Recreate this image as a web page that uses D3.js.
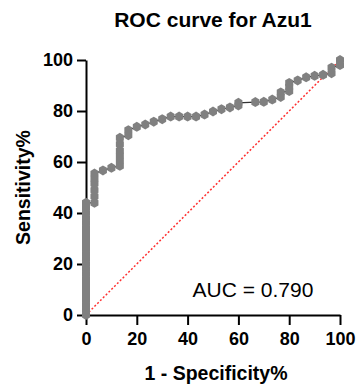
<!DOCTYPE html>
<html><head><meta charset="utf-8">
<script src="https://cdn.jsdelivr.net/npm/d3@7"></script>
<style>
html,body{margin:0;padding:0;background:#fff;}
svg{display:block;font-family:"Liberation Sans",Arial,sans-serif;}
</style></head>
<body>
<script>
// ROC points: 100 - Specificity% (x) and Sensitivity% (y)
const fpr = [
  0,0,0,0,0,0,0,0,0,0,0,0,0,0,0,0,0,0,0,0,0,0,0,
  3.33,3.33,3.33,3.33,3.33,3.33,
  6.67,10,
  13.33,13.33,13.33,13.33,13.33,13.33,
  16.67,16.67,
  20,23.33,26.67,30,33.33,36.67,40,43.33,46.67,50,53.33,56.67,
  60,60,
  66.67,70,73.33,
  76.67,76.67,
  80,80,80,
  83.33,86.67,90,93.33,
  96.67,96.67,
  100,100
];
const tpr = [
  0,2,4,6,8,10,12,14,16,18,20,22,24,26,28,30,32,34,36,38,40,42,44,
  44,46.5,49,51.5,53.5,55.5,
  56.7,57.7,
  58.5,60.5,62.5,64.5,67,69.5,
  70.5,72.5,
  73.8,74.7,75.8,76.8,77.8,77.8,77.8,77.8,78.6,79.8,80.7,81.4,
  82.2,83.2,
  83.5,83.6,84.5,
  85.5,87.3,
  87.8,89.5,91,
  92,93.2,93.8,94.2,
  94.8,97,
  98,100
];
const xTicks = [0,20,40,60,80,100];
const yTicks = [0,20,40,60,80,100];
const title = "ROC curve for Azu1";
const xLabel = "1 - Specificity%";
const yLabel = "Sensitivity%";
const aucText = "AUC = 0.790";

const W = 357, H = 385;
const svg = d3.select("body").append("svg").attr("width", W).attr("height", H);

const x = d3.scaleLinear().domain([0,100]).range([86,340]);
const y = d3.scaleLinear().domain([0,100]).range([315,60]);

// axes (drawn first so the curve covers them)
const xAxis = d3.axisBottom(x).tickValues(xTicks).tickSize(10).tickPadding(7).tickSizeOuter(0);
const yAxis = d3.axisLeft(y).tickValues(yTicks).tickSize(9).tickPadding(4).tickSizeOuter(0);

const gx = svg.append("g").attr("transform","translate(0,315)").call(xAxis);
const gy = svg.append("g").attr("transform","translate(86,0)").call(yAxis);
[gx,gy].forEach(g=>{
  g.select(".domain").attr("stroke","#000").attr("stroke-width",2);
  g.selectAll(".tick line").attr("stroke","#000").attr("stroke-width",2);
  g.selectAll(".tick text").attr("fill","#000")
    .style("font-size","18px").style("font-weight","bold")
    .style("font-family","'Liberation Sans',Arial,sans-serif");
});

// reference diagonal
svg.append("line")
  .attr("x1", x(0)).attr("y1", y(0)).attr("x2", x(100)).attr("y2", y(100))
  .attr("stroke", "#ff3030").attr("stroke-width", 1.5)
  .attr("stroke-dasharray", "2,2");

const pts = fpr.map((v,i)=>[v,tpr[i]]);

// connecting line
svg.append("path")
  .datum(pts)
  .attr("fill","none").attr("stroke","#333").attr("stroke-width",1.2)
  .attr("d", d3.line().x(d=>x(d[0])).y(d=>y(d[1])));

// markers
const marker = "M0,-5L4,-2.6L4,2.6L0,5L-4,2.6L-4,-2.6Z";
svg.append("g").selectAll("path").data(pts).join("path")
  .attr("d", marker)
  .attr("transform", d=>`translate(${x(d[0])},${y(d[1])})`)
  .attr("fill","#808080");

// title
svg.append("text").attr("x",213).attr("y",27).attr("text-anchor","middle")
  .style("font-size","21px").style("font-weight","bold").text(title);
// x label
svg.append("text").attr("x",216).attr("y",380).attr("text-anchor","middle")
  .style("font-size","19.5px").style("font-weight","bold").text(xLabel);
// y label
svg.append("text").attr("transform","translate(30,187.5) rotate(-90)").attr("text-anchor","middle")
  .style("font-size","19.5px").style("font-weight","bold").text(yLabel);
// AUC
svg.append("text").attr("x",253).attr("y",297).attr("text-anchor","middle")
  .style("font-size","21px").text(aucText);
</script>
</body></html>
